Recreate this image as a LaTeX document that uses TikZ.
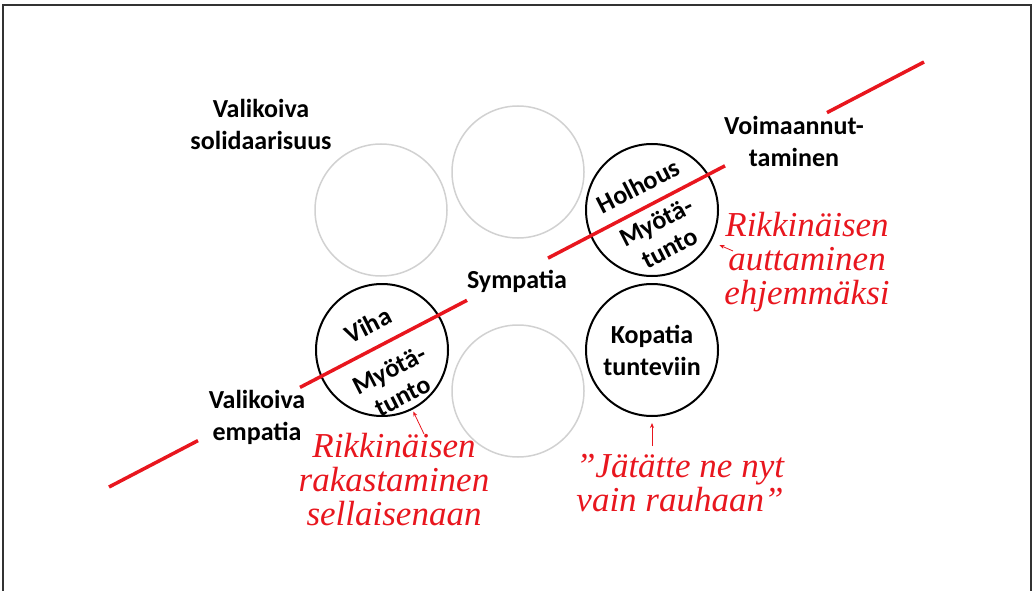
\documentclass[tikz,border=0pt]{standalone}
\usepackage{fontspec}
\setmainfont{Carlito}
\newfontfamily\penscript{Liberation Serif}
\usetikzlibrary{arrows.meta}
\definecolor{penred}{RGB}{232,22,30}
\begin{document}
\begin{tikzpicture}[x=1pt,y=-1pt,ring/.style={shape=circle,minimum size=132pt,inner sep=0pt},ringB/.style={ring,draw=black,line width=2pt},ringG/.style={ring,draw=black!18,line width=1.5pt},lbl/.style={font=\fontsize{26}{32}\selectfont\bfseries,align=center},lblR/.style={lbl,font=\fontsize{26}{29}\selectfont\bfseries,rotate=27},hand/.style={text=penred,align=center,font=\fontsize{35}{34}\selectfont\penscript\itshape},cut/.style={draw=penred,line width=3.5pt},tip/.style={draw=penred,line width=0.8pt,-{Stealth[length=5pt,width=4pt]}}]
\def\xa{381};
\def\xb{518};
\def\xc{652};
\def\ya{210};
\def\yb{350};
\def\dm{38};

\useasboundingbox (0,0) rectangle (1033,591);
\draw[line width=2pt,black!80] (3,591) -- (3,5) -- (1031,5) -- (1031,591);

\node[ringG] (G1) at (\xa,\ya) {};
\node[ringG] (G2) at (\xb,\ya-\dm) {};
\node[ringG] (G3) at (\xb,\yb+41) {};
\node[ringB] (H) at (\xc,\ya) {};
\node[ringB] (V) at (\xa+1,\yb) {};
\node[ringB,lbl] (K) at (\xc,\yb) {Kopatia\\tunteviin};

\coordinate (c1) at (109,487);
\coordinate (c2) at (198,440.6);
\coordinate (c3) at (300,387.4);
\coordinate (c4) at (467,300.3);
\coordinate (c5) at (548,258.1);
\coordinate (c6) at (725,165.8);
\coordinate (c7) at (827,112.6);
\coordinate (c8) at (924,62);
\draw[cut] (c1) -- (c2);
\draw[cut] (c3) -- (c4);
\draw[cut] (c5) -- (c6);
\draw[cut] (c7) -- (c8);

\node[lbl] (vs) at (261,124) {Valikoiva\\solidaarisuus};
\node[lbl] (vo) at (794,141) {Voimaannut-\\taminen};
\node[lbl] (sy) at (517,281) {Sympatia};
\node[lbl] (ve) at (257,417) {Valikoiva\\empatia};

\node[lblR] (hh) at (638,186) {Holhous};
\node[lblR] (hm) at (663,235) {Myötä-\\tunto};
\node[lblR] (vh) at (368,325) {Viha};
\node[lblR] (vm) at (396,383) {Myötä-\\tunto};

\node[hand] (ra) at (807,262) {Rikkinäisen\\auttaminen\\ehjemmäksi};
\node[hand] (rb) at (394,480) {Rikkinäisen\\rakastaminen\\sellaisenaan};
\node[hand] (rc) at (680,483) {”Jätätte ne nyt\\vain rauhaan”};

\coordinate (a1) at (733,251);
\coordinate (a2) at (424,434);
\coordinate (a3) at (652,446);
\draw[tip,shorten >=9pt] (a1) -- (H.-28);
\draw[tip,shorten >=2pt] (a2) -- (V.-63);
\draw[tip,shorten >=6pt] (a3) -- (K.south);
\end{tikzpicture}
\end{document}
